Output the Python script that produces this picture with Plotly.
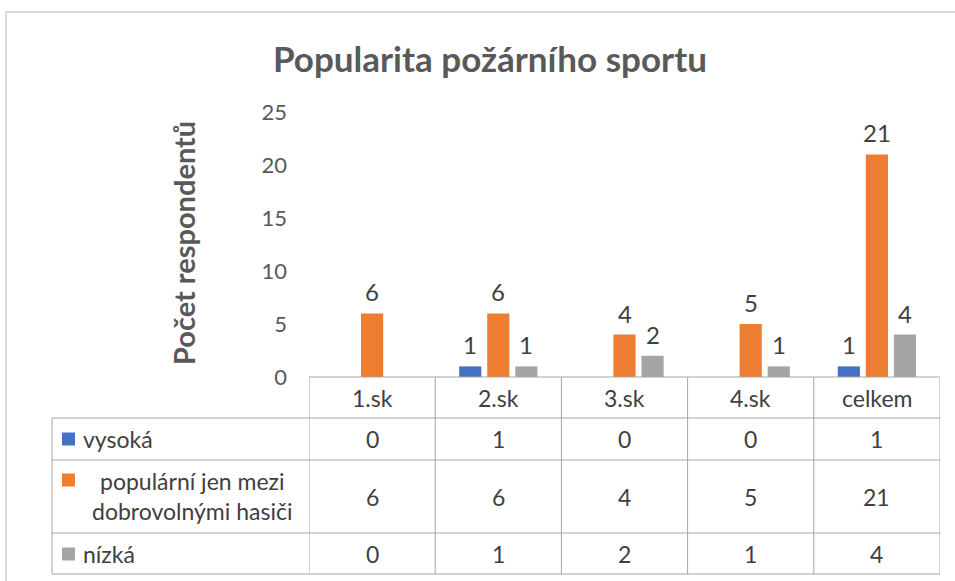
import plotly.graph_objects as go

W, H = 955, 581

categories = ["1.sk", "2.sk", "3.sk", "4.sk", "celkem"]
series_names = ["vysoká", "populární jen mezi dobrovolnými hasiči", "nízká"]
vysoka = [0, 1, 0, 0, 1]
popularni = [6, 6, 4, 5, 21]
nizka = [0, 1, 2, 1, 4]
colors = ["#4472C4", "#ED7D31", "#A5A5A5"]
y_ticks = [0, 5, 10, 15, 20, 25]
title_text = "Popularita požárního sportu"
y_title = "Počet respondentů"

series = [vysoka, popularni, nizka]

FONT = "Lato"
TEXT_DARK = "#404040"
TEXT_GRAY = "#595959"
GRID = "#A6A6A6"
TABLE_FS = 23

BARGAP = 1 / 3
GROUPGAP = 0.21


def X(px):
    return px / W


def Y(py):
    return 1 - py / H


# plot/table geometry (pixels)
PL, PR = 309, 940
PT, PB = 112, 377
ROW_LINES = [377, 418, 460, 533, 574]
TABLE_LEFT = 52

fig = go.Figure()
for name, vals, col in zip(series_names, series, colors):
    fig.add_trace(go.Bar(
        x=categories, y=vals, name=name, marker=dict(color=col, line=dict(width=0)),
        showlegend=False, hoverinfo="skip",
    ))

annotations = []
shapes = []

# data labels above bars (skip zero values)
slot = (1 - BARGAP) / 3
for k, vals in enumerate(series):
    for i, v in enumerate(vals):
        if v:
            annotations.append(dict(
                x=i + (k - 1) * slot, y=v, xref="x", yref="y",
                text=str(v), showarrow=False, yanchor="bottom", yshift=5,
                font=dict(family=FONT, size=24, color=TEXT_DARK),
            ))

# title
annotations.append(dict(
    x=X(490), y=Y(58), xref="paper", yref="paper", text="<b>" + title_text + "</b>",
    showarrow=False, xanchor="center", yanchor="middle",
    font=dict(family=FONT, size=35, color=TEXT_GRAY),
))
# y axis title
annotations.append(dict(
    x=X(184), y=Y(243), xref="paper", yref="paper", text="<b>" + y_title + "</b>",
    showarrow=False, textangle=-90, xanchor="center", yanchor="middle",
    font=dict(family=FONT, size=29, color=TEXT_GRAY),
))

# table header (category names)
row_centers = [(ROW_LINES[j] + ROW_LINES[j + 1]) / 2 for j in range(4)]
for i, c in enumerate(categories):
    annotations.append(dict(
        x=i, y=Y(row_centers[0]), xref="x", yref="paper", text=c, showarrow=False,
        xanchor="center", yanchor="middle", font=dict(family=FONT, size=TABLE_FS, color=TEXT_DARK),
    ))
# table values
for k, vals in enumerate(series):
    for i, v in enumerate(vals):
        annotations.append(dict(
            x=i, y=Y(row_centers[k + 1]), xref="x", yref="paper", text=str(v), showarrow=False,
            xanchor="center", yanchor="middle", font=dict(family=FONT, size=TABLE_FS, color=TEXT_DARK),
        ))

# row labels with legend keys
label_lines = [["vysoká"], ["populární jen mezi", "dobrovolnými hasiči"], ["nízká"]]
key_centers = [439, 480, 554]
for k, lines in enumerate(label_lines):
    kc = key_centers[k]
    shapes.append(dict(type="rect", xref="paper", yref="paper",
                       x0=X(62), x1=X(75), y0=Y(kc + 6.5), y1=Y(kc - 6.5),
                       fillcolor=colors[k], line=dict(width=0)))
    if len(lines) == 1:
        annotations.append(dict(
            x=X(81), y=Y(row_centers[k + 1]), xref="paper", yref="paper", text=lines[0],
            showarrow=False, xanchor="left", yanchor="middle",
            font=dict(family=FONT, size=TABLE_FS, color=TEXT_DARK),
        ))
    else:
        for li, (t, yc) in enumerate(zip(lines, [481, 511])):
            annotations.append(dict(
                x=X(192), y=Y(yc), xref="paper", yref="paper", text=t,
                showarrow=False, xanchor="center", yanchor="middle",
                font=dict(family=FONT, size=TABLE_FS, color=TEXT_DARK),
            ))

# table grid: horizontal lines
shapes.append(dict(type="line", xref="paper", yref="paper", x0=X(PL), x1=X(PR),
                   y0=Y(ROW_LINES[0]), y1=Y(ROW_LINES[0]), line=dict(color=GRID, width=1)))
for r in ROW_LINES[1:]:
    shapes.append(dict(type="line", xref="paper", yref="paper", x0=X(TABLE_LEFT), x1=X(PR),
                       y0=Y(r), y1=Y(r), line=dict(color=GRID, width=1)))
# vertical lines
shapes.append(dict(type="line", xref="paper", yref="paper", x0=X(TABLE_LEFT), x1=X(TABLE_LEFT),
                   y0=Y(ROW_LINES[1]), y1=Y(ROW_LINES[-1]), line=dict(color=GRID, width=1)))
for i in range(len(categories) + 1):
    shapes.append(dict(type="line", xref="x", yref="paper", x0=i - 0.5, x1=i - 0.5,
                       y0=Y(ROW_LINES[0]), y1=Y(ROW_LINES[-1]), line=dict(color=GRID, width=1)))

# outer chart frame
shapes.append(dict(type="line", xref="paper", yref="paper", x0=X(6), x1=1, y0=Y(12), y1=Y(12),
                   line=dict(color="#D9D9D9", width=2)))
shapes.append(dict(type="line", xref="paper", yref="paper", x0=X(6), x1=X(6), y0=Y(12), y1=0,
                   line=dict(color="#D9D9D9", width=2)))

fig.update_layout(
    width=W, height=H, margin=dict(l=0, r=0, t=0, b=0, pad=0, autoexpand=False),
    autosize=False,
    paper_bgcolor="white", plot_bgcolor="white",
    barmode="group", bargap=BARGAP, bargroupgap=GROUPGAP,
    xaxis=dict(domain=[X(PL), X(PR)], showticklabels=False, showgrid=False, zeroline=False,
               showline=False, ticks="", range=[-0.5, len(categories) - 0.5], fixedrange=True,
               automargin=False),
    yaxis=dict(domain=[Y(PB), Y(PT)], range=[0, 25], tickvals=y_ticks, showgrid=False,
               zeroline=False, showline=False, ticks="", ticklabelstandoff=21, automargin=False,
               tickfont=dict(family=FONT, size=22, color=TEXT_GRAY), fixedrange=True),
    annotations=annotations, shapes=shapes,
)

post = ("document.body.style.margin='0';document.body.style.padding='0';"
        "document.body.style.overflow='hidden';")
fig.write_html("out.html", post_script=post, config={"responsive": False, "displayModeBar": False})
